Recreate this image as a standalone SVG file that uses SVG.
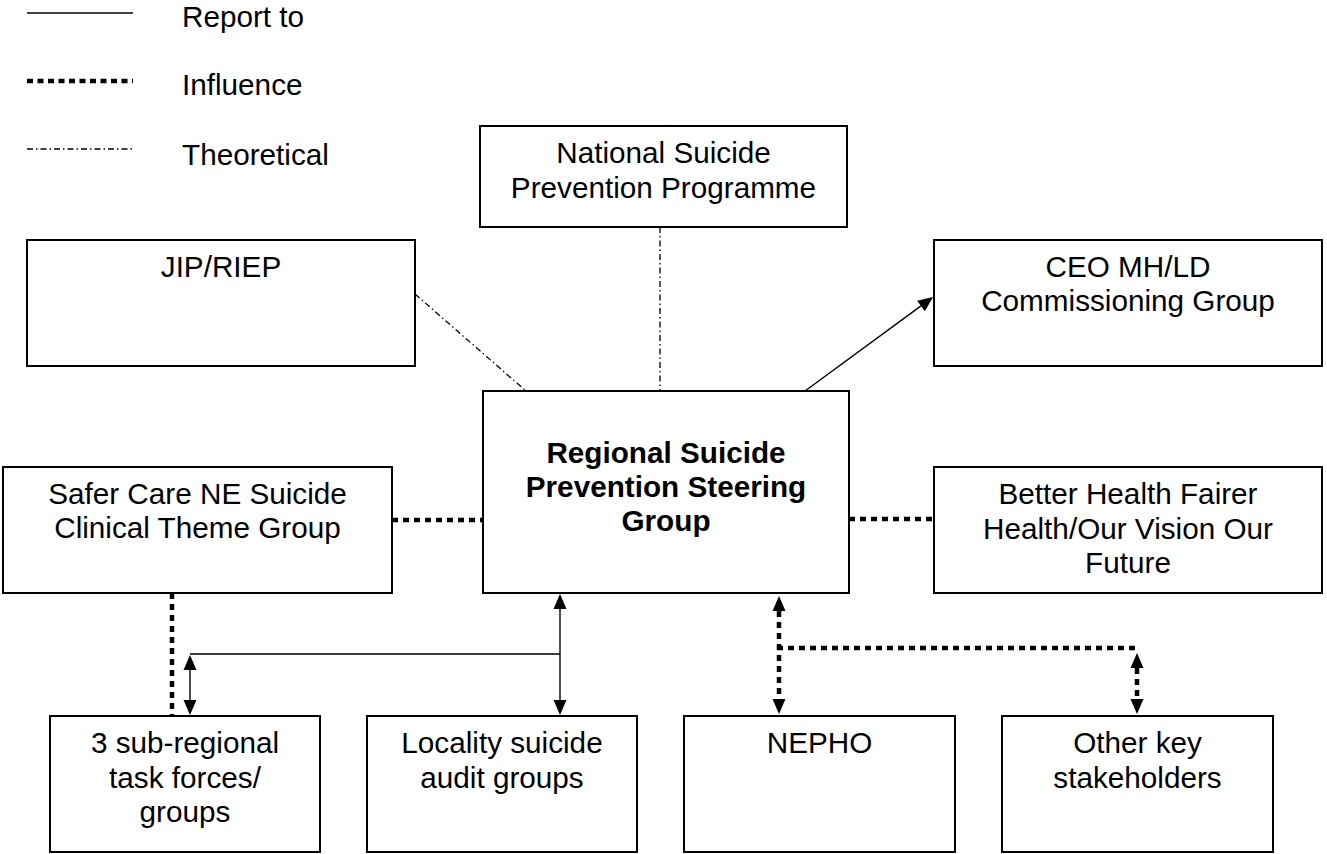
<svg xmlns="http://www.w3.org/2000/svg" width="1327" height="854" viewBox="0 0 1327 854">
<style>
.box{fill:#fff;stroke:#000;stroke-width:2}
.t{font-family:"Liberation Sans",Arial,sans-serif;font-size:29.7px;fill:#000;text-anchor:middle}
.tl{font-family:"Liberation Sans",Arial,sans-serif;font-size:29.7px;fill:#000}
.b{font-weight:bold}
.solid{fill:none;stroke:#000;stroke-width:1.4}
.dot{fill:none;stroke:#000;stroke-width:4.5;stroke-dasharray:6 5}
.dd{fill:none;stroke:#000;stroke-width:1.3;stroke-dasharray:6 3 1.5 3}
</style>
<defs>
<marker id="ah" markerUnits="userSpaceOnUse" markerWidth="16" markerHeight="14" refX="0" refY="6.5" orient="auto-start-reverse" overflow="visible">
<path d="M0,0 L15,6.5 L0,13 z" fill="#000"/>
</marker>
</defs>
<g id="legend">
<line x1="27" y1="13" x2="133" y2="13" class="solid" stroke-width="1.6"/>
<text x="182" y="27" class="tl">Report to</text>
<line x1="27" y1="81" x2="133" y2="81" class="dot" style="stroke-dasharray:6 4.5"/>
<text x="182" y="95" class="tl">Influence</text>
<line x1="27" y1="149" x2="133" y2="149" class="dd"/>
<text x="182" y="165" class="tl">Theoretical</text>
</g>
<g id="connectors">
<line x1="415" y1="294" x2="526" y2="391" class="dd"/>
<line x1="660" y1="227" x2="660" y2="391" class="dd"/>
<line x1="805" y1="391" x2="921" y2="305.9" class="solid" marker-end="url(#ah)"/>
<line x1="392" y1="520" x2="483" y2="520" class="dot"/>
<line x1="849" y1="519" x2="934" y2="519" class="dot"/>
<line x1="172" y1="593" x2="172" y2="716" class="dot"/>
<line x1="560" y1="609" x2="560" y2="700" class="solid" marker-start="url(#ah)" marker-end="url(#ah)"/>
<line x1="560" y1="654" x2="190" y2="654" class="solid"/>
<line x1="190" y1="670" x2="190" y2="700" class="solid" marker-start="url(#ah)" marker-end="url(#ah)"/>
<line x1="779" y1="611" x2="779" y2="699" class="dot" marker-start="url(#ah)" marker-end="url(#ah)"/>
<line x1="777" y1="648" x2="1139" y2="648" class="dot"/>
<line x1="1137" y1="668" x2="1137" y2="699" class="dot" marker-start="url(#ah)" marker-end="url(#ah)"/>
</g>
<g id="national">
<rect x="480" y="126" width="367" height="101" class="box"/>
<text class="t"><tspan x="663.5" y="163">National Suicide</tspan><tspan x="663.5" y="197.5">Prevention Programme</tspan></text>
</g>
<g id="jip">
<rect x="27" y="240" width="388" height="126" class="box"/>
<text x="221" y="277" class="t">JIP/RIEP</text>
</g>
<g id="ceo">
<rect x="934" y="240" width="388" height="126" class="box"/>
<text class="t"><tspan x="1128" y="277">CEO MH/LD</tspan><tspan x="1128" y="311">Commissioning Group</tspan></text>
</g>
<g id="regional">
<rect x="483" y="391" width="366" height="202" class="box"/>
<text class="t b"><tspan x="666" y="463">Regional Suicide</tspan><tspan x="666" y="497">Prevention Steering</tspan><tspan x="666" y="531">Group</tspan></text>
</g>
<g id="safer">
<rect x="3" y="467" width="389" height="126" class="box"/>
<text class="t"><tspan x="197.5" y="504">Safer Care NE Suicide</tspan><tspan x="197.5" y="538">Clinical Theme Group</tspan></text>
</g>
<g id="better">
<rect x="934" y="467" width="388" height="126" class="box"/>
<text class="t"><tspan x="1128" y="504">Better Health Fairer</tspan><tspan x="1128" y="538.5">Health/Our Vision Our</tspan><tspan x="1128" y="573">Future</tspan></text>
</g>
<g id="subregional">
<rect x="50" y="716" width="270" height="136" class="box"/>
<text class="t"><tspan x="185" y="753">3 sub-regional</tspan><tspan x="185" y="787.5">task forces/</tspan><tspan x="185" y="822">groups</tspan></text>
</g>
<g id="locality">
<rect x="367" y="716" width="270" height="136" class="box"/>
<text class="t"><tspan x="502" y="753">Locality suicide</tspan><tspan x="502" y="787.5">audit groups</tspan></text>
</g>
<g id="nepho">
<rect x="684" y="716" width="271" height="136" class="box"/>
<text x="819.5" y="753" class="t">NEPHO</text>
</g>
<g id="other">
<rect x="1002" y="716" width="271" height="136" class="box"/>
<text class="t"><tspan x="1137.5" y="753">Other key</tspan><tspan x="1137.5" y="787.5">stakeholders</tspan></text>
</g>
</svg>
